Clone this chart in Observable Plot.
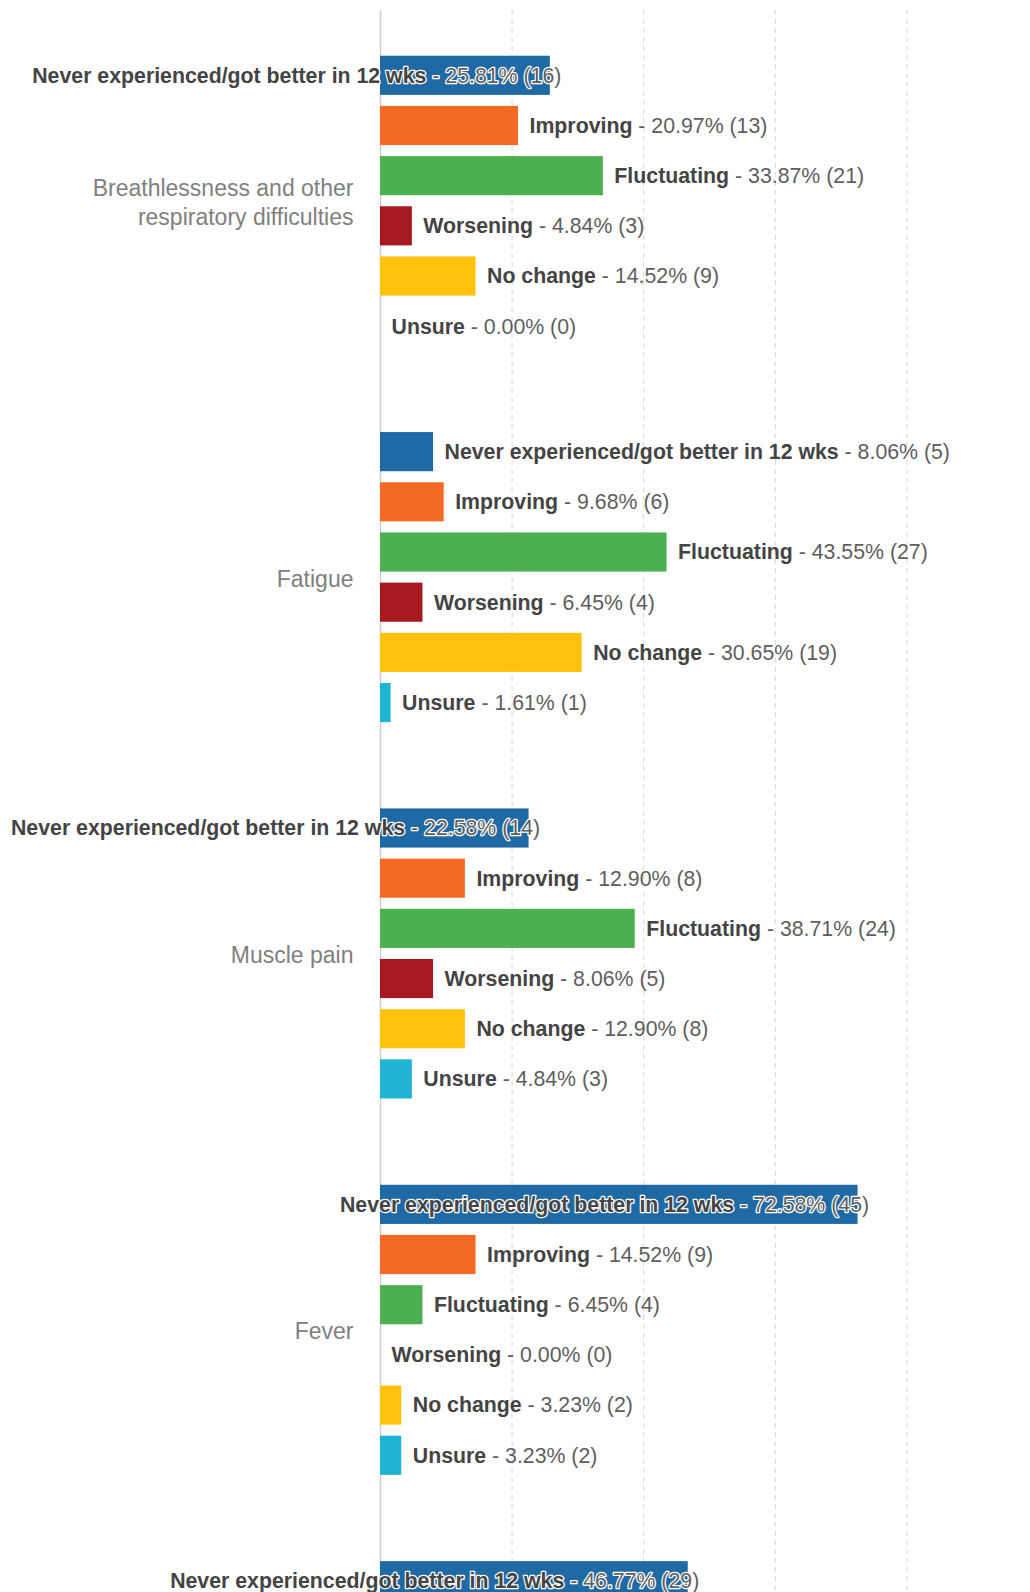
<!DOCTYPE html>
<html>
<head>
<meta charset="utf-8">
<script src="https://cdn.jsdelivr.net/npm/d3@7"></script>
<script src="https://cdn.jsdelivr.net/npm/@observablehq/plot@0.6"></script>
<style>
  html, body { margin: 0; padding: 0; background: #fff; overflow: hidden; }
  #chart svg { overflow: hidden; display: block; }
</style>
</head>
<body>
<div id="chart"></div>
<script>
// ---- data ----
const responses = ["Never experienced/got better in 12 wks", "Improving", "Fluctuating", "Worsening", "No change", "Unsure"];
const responseColors = ["#1f6aa5", "#f46a25", "#4caf50", "#a5191f", "#fec20d", "#20b4d4"];
const categories = ["Breathlessness and other respiratory difficulties", "Fatigue", "Muscle pain", "Fever", ""];
const breathlessnessPct = [25.81, 20.97, 33.87, 4.84, 14.52, 0.00];
const breathlessnessN   = [16, 13, 21, 3, 9, 0];
const fatiguePct = [8.06, 9.68, 43.55, 6.45, 30.65, 1.61];
const fatigueN   = [5, 6, 27, 4, 19, 1];
const musclePainPct = [22.58, 12.90, 38.71, 8.06, 12.90, 4.84];
const musclePainN   = [14, 8, 24, 5, 8, 3];
const feverPct = [72.58, 14.52, 6.45, 0.00, 3.23, 3.23];
const feverN   = [45, 9, 4, 0, 2, 2];
const fifthPct = [46.77];   // only the first row of the fifth item is visible
const fifthN   = [29];
const gridTicks = [20, 40, 60, 80];

// ---- build table ----
const groupPct = [breathlessnessPct, fatiguePct, musclePainPct, feverPct, fifthPct];
const groupN = [breathlessnessN, fatigueN, musclePainN, feverN, fifthN];
const GROUP_STEP = 7.5; // 6 rows + gap
const rows = [];
groupPct.forEach((pcts, g) => {
  pcts.forEach((p, r) => {
    rows.push({
      group: categories[g],
      response: responses[r],
      pct: p,
      n: groupN[g][r],
      pos: g * GROUP_STEP + r,
      name: responses[r],
      value: ` - ${p.toFixed(2)}% (${groupN[g][r]})`,
      label: `${responses[r]} - ${p.toFixed(2)}% (${groupN[g][r]})`
    });
  });
});
const catRows = categories.map((c, g) => ({name: c, pos: g * GROUP_STEP + 2.5})).filter(d => d.name);

// ---- layout ----
const W = 1030, H = 1592;
const xRange = [380, 1038];
const yRange = [75.3, 1580.7];
const FONT = "'Liberation Sans', Arial, Helvetica, sans-serif";
const LABEL_SIZE = 21.3;
const GAP = 11;
const HALF = 0.39;

// measure labels to decide placement
const ctx = document.createElement("canvas").getContext("2d");
function labelWidth(d) {
  ctx.font = `bold ${LABEL_SIZE}px ${FONT}`;
  const a = ctx.measureText(d.name).width;
  ctx.font = `${LABEL_SIZE}px ${FONT}`;
  const b = ctx.measureText(d.value).width;
  return a + b;
}
const xPix = v => xRange[0] + (xRange[1] - xRange[0]) * v / 100;
rows.forEach(d => { d.inside = xPix(d.pct) + GAP + labelWidth(d) > W - 4; });

const chart = Plot.plot({
  width: W,
  height: H,
  marginTop: 10,
  marginBottom: 0,
  marginLeft: 0,
  marginRight: 0,
  style: {background: "#fff", fontFamily: FONT, overflow: "hidden"},
  x: {domain: [0, 100], range: xRange, axis: null},
  y: {domain: [0, 30], range: yRange, axis: null},
  color: {domain: responses, range: responseColors},
  marks: [
    Plot.ruleX(gridTicks, {stroke: "#d6d6d6", strokeDasharray: "5,4", strokeWidth: 1}),
    Plot.ruleX([0], {stroke: "#d0d0d0", strokeWidth: 1.5}),
    Plot.rectX(rows, {
      x1: 0, x2: "pct",
      y1: d => d.pos - HALF, y2: d => d.pos + HALF,
      fill: "response"
    }),
    Plot.text(catRows, {
      x: 0, y: "pos", text: "name",
      textAnchor: "end", dx: -27, lineWidth: 13, lineHeight: 1.24,
      fontSize: 23, fill: "#808080"
    }),
    Plot.text(rows.filter(d => !d.inside), {
      x: "pct", y: "pos", text: "label", textAnchor: "start", dx: GAP,
      fontSize: LABEL_SIZE, fill: "#5e5e5e"
    }),
    Plot.text(rows.filter(d => d.inside), {
      x: "pct", y: "pos", text: "label", textAnchor: "end", dx: GAP,
      fontSize: LABEL_SIZE, fill: "#5e5e5e", stroke: "#fff", strokeWidth: 2.5,
      paintOrder: "stroke"
    })
  ]
});

// split labels into bold response name + regular value part
const byLabel = new Map(rows.map(d => [d.label, d]));
chart.querySelectorAll("text").forEach(t => {
  const d = byLabel.get(t.textContent);
  if (!d) return;
  while (t.firstChild) t.removeChild(t.firstChild);
  const a = document.createElementNS("http://www.w3.org/2000/svg", "tspan");
  a.setAttribute("font-weight", "bold");
  a.setAttribute("fill", "#444");
  a.textContent = d.name;
  const b = document.createElementNS("http://www.w3.org/2000/svg", "tspan");
  b.textContent = d.value;
  t.appendChild(a);
  t.appendChild(b);
});

document.getElementById("chart").appendChild(chart);
</script>
</body>
</html>
